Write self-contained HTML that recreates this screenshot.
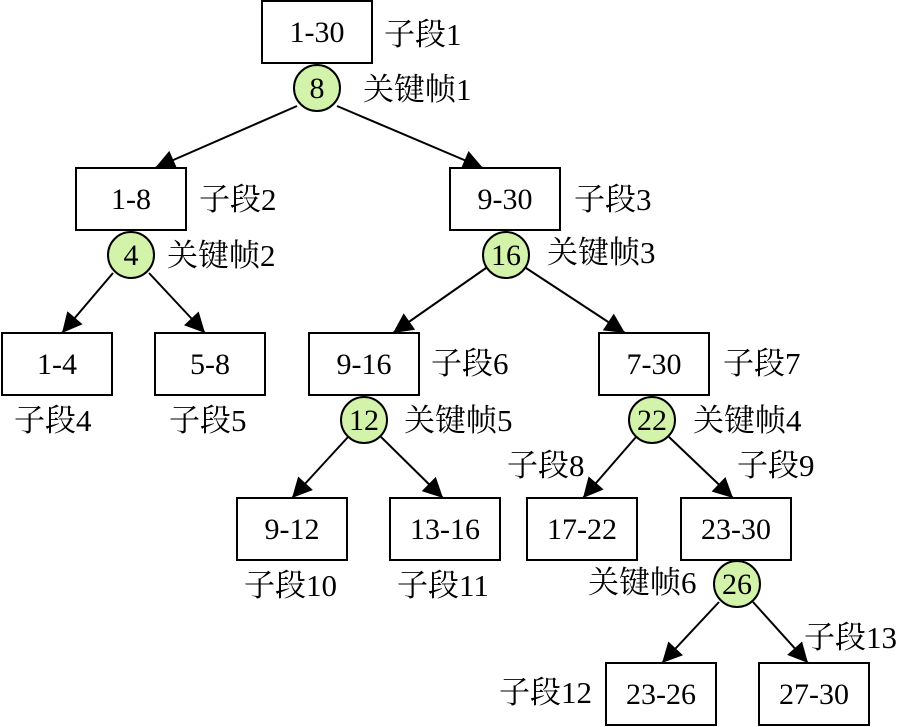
<!DOCTYPE html>
<html><head><meta charset="utf-8"><style>
html,body{margin:0;padding:0;background:#fff;}
svg{display:block;}
</style></head><body>
<svg width="900" height="727" viewBox="0 0 900 727">
<defs><marker id="a" viewBox="0 0 10 10" refX="10" refY="5" markerWidth="22" markerHeight="20" markerUnits="userSpaceOnUse" orient="auto"><path d="M0,0 L10,5 L0,10 z" fill="#000"/></marker></defs>
<g stroke="#000" stroke-width="2" fill="none">
<line x1="297" y1="106" x2="155" y2="168" marker-end="url(#a)"/>
<line x1="337" y1="106" x2="483" y2="168" marker-end="url(#a)"/>
<line x1="113" y1="273" x2="62" y2="333" marker-end="url(#a)"/>
<line x1="149" y1="273" x2="205" y2="333" marker-end="url(#a)"/>
<line x1="486" y1="268" x2="393" y2="333" marker-end="url(#a)"/>
<line x1="526" y1="268" x2="625" y2="333" marker-end="url(#a)"/>
<line x1="348" y1="437" x2="292" y2="498" marker-end="url(#a)"/>
<line x1="381" y1="437" x2="443" y2="498" marker-end="url(#a)"/>
<line x1="636" y1="437" x2="583" y2="498" marker-end="url(#a)"/>
<line x1="669" y1="437" x2="733" y2="498" marker-end="url(#a)"/>
<line x1="719" y1="602" x2="662" y2="663" marker-end="url(#a)"/>
<line x1="753" y1="602" x2="808" y2="663" marker-end="url(#a)"/>
</g>
<g stroke="#000" stroke-width="2" fill="#fff">
<rect x="262" y="1" width="110" height="62"/>
<rect x="76" y="168" width="110" height="62"/>
<rect x="450" y="168" width="110" height="62"/>
<rect x="2" y="333" width="110" height="62"/>
<rect x="155" y="333" width="110" height="62"/>
<rect x="309" y="333" width="110" height="62"/>
<rect x="599" y="333" width="110" height="62"/>
<rect x="237" y="498" width="110" height="62"/>
<rect x="390" y="498" width="110" height="62"/>
<rect x="527" y="498" width="110" height="62"/>
<rect x="681" y="498" width="110" height="62"/>
<rect x="606" y="663" width="110" height="62"/>
<rect x="759" y="663" width="110" height="62"/>
</g>
<g stroke="#000" stroke-width="2" fill="#d3f2aa">
<circle cx="317" cy="88" r="23"/>
<circle cx="131" cy="255" r="23"/>
<circle cx="506" cy="255" r="23"/>
<circle cx="364" cy="420" r="23"/>
<circle cx="652" cy="420" r="23"/>
<circle cx="737" cy="584" r="23"/>
</g>
<g font-family="'Liberation Serif','Noto Serif CJK SC',serif" font-size="30" text-anchor="middle" fill="#000">
<text x="317" y="42">1-30</text>
<text x="131" y="209">1-8</text>
<text x="505" y="209">9-30</text>
<text x="57" y="374">1-4</text>
<text x="210" y="374">5-8</text>
<text x="364" y="374">9-16</text>
<text x="654" y="374">7-30</text>
<text x="292" y="539">9-12</text>
<text x="445" y="539">13-16</text>
<text x="582" y="539">17-22</text>
<text x="736" y="539">23-30</text>
<text x="661" y="704">23-26</text>
<text x="814" y="704">27-30</text>
<text x="317" y="98">8</text>
<text x="131" y="265">4</text>
<text x="506" y="265">16</text>
<text x="364" y="430">12</text>
<text x="652" y="430">22</text>
<text x="737" y="594">26</text>
</g>
<g font-family="'Liberation Serif','Noto Serif CJK SC',serif" font-size="31" fill="#000">
<text x="384" y="45">子段1</text>
<text x="363" y="100">关键帧1</text>
<text x="199" y="210">子段2</text>
<text x="167" y="266">关键帧2</text>
<text x="574" y="210">子段3</text>
<text x="547" y="263">关键帧3</text>
<text x="14" y="431">子段4</text>
<text x="169" y="431">子段5</text>
<text x="431" y="374">子段6</text>
<text x="404" y="431">关键帧5</text>
<text x="723" y="374">子段7</text>
<text x="693" y="431">关键帧4</text>
<text x="507" y="476">子段8</text>
<text x="737" y="476">子段9</text>
<text x="244" y="596">子段10</text>
<text x="397" y="596">子段11</text>
<text x="588" y="593">关键帧6</text>
<text x="804" y="648">子段13</text>
<text x="499" y="703">子段12</text>
</g>
</svg>
</body></html>
